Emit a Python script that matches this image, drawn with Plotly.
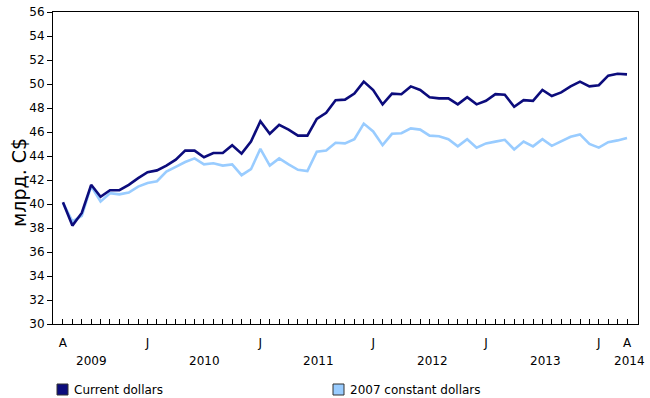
import plotly.graph_objects as go

# Monthly, April 2009 .. April 2014 (61 months)
months = list(range(61))
current_dollars = [
    40.15, 38.2, 39.25, 41.6, 40.6, 41.15, 41.15, 41.6, 42.15, 42.65,
    42.8, 43.2, 43.7, 44.45, 44.45, 43.9, 44.25, 44.25, 44.9, 44.2,
    45.2, 46.9, 45.85, 46.6, 46.2, 45.7, 45.7, 47.1, 47.6, 48.65,
    48.7, 49.2, 50.2, 49.5, 48.3, 49.2, 49.15, 49.8, 49.5, 48.9,
    48.8, 48.8, 48.3, 48.9, 48.3, 48.6, 49.15, 49.1, 48.1, 48.65,
    48.6, 49.5, 49.0, 49.3, 49.8, 50.2, 49.8, 49.9, 50.7, 50.85,
    50.8,
]
constant_2007_dollars = [
    40.1, 38.55, 39.0, 41.5, 40.2, 40.9, 40.8, 40.95, 41.45, 41.75,
    41.9, 42.7, 43.1, 43.5, 43.8, 43.3, 43.4, 43.2, 43.3, 42.4,
    42.9, 44.6, 43.2, 43.8, 43.3, 42.85, 42.75, 44.35, 44.45, 45.1,
    45.05, 45.4, 46.7, 46.05, 44.9, 45.85, 45.9, 46.3, 46.2, 45.7,
    45.65, 45.4, 44.8, 45.4, 44.7, 45.05, 45.2, 45.35, 44.55, 45.2,
    44.8, 45.4, 44.85, 45.25, 45.6, 45.8, 45.0, 44.7, 45.15, 45.3,
    45.5,
]
month_labels = {0: "A", 9: "J", 21: "J", 33: "J", 45: "J", 57: "J", 60: "A"}
year_labels = ["2009", "2010", "2011", "2012", "2013", "2014"]
year_pos = [3.0, 15.1, 27.2, 39.3, 51.3, 60.3]
series_names = ["Current dollars", "2007 constant dollars"]
y_title = "млрд. C$"

dark = "#0C0C7C"
light = "#99CCFF"
font = "DejaVu Sans"

# plot area geometry in pixels (for the hand-drawn legend / title)
L, R, T, B = 53, 638, 12, 324
W, H = R - L, B - T
def px(x):
    return (x - L) / W
def py(y):
    return (B - y) / H

fig = go.Figure()
fig.add_trace(go.Scatter(x=months, y=constant_2007_dollars, mode="lines",
                         name=series_names[1],
                         line=dict(color=light, width=2.6), showlegend=False))
fig.add_trace(go.Scatter(x=months, y=current_dollars, mode="lines",
                         name=series_names[0],
                         line=dict(color=dark, width=2.6), showlegend=False))

for lbl, pos in zip(year_labels, year_pos):
    fig.add_annotation(x=pos, y=0, xref="x", yref="paper", text=lbl,
                       showarrow=False, yanchor="top", yshift=-28,
                       font=dict(family=font, size=12, color="black"))

# y-axis title
fig.add_annotation(x=px(19), y=py(183), xref="paper", yref="paper", text=y_title,
                   showarrow=False, textangle=-90, xanchor="center", yanchor="middle",
                   font=dict(family=font, size=19, color="black"))

# legend (squares + labels)
legend_items = [(57, 72, dark, series_names[0]), (333, 348, light, series_names[1])]
for sx, tx, col, name in legend_items:
    fig.add_shape(type="rect", xref="paper", yref="paper",
                  x0=px(sx), x1=px(sx + 11), y0=py(395), y1=py(384),
                  fillcolor=col, line=dict(color="#333333", width=1))
    fig.add_annotation(x=px(tx), y=py(389.5), xref="paper", yref="paper",
                       text=name, showarrow=False, xanchor="left", yanchor="middle",
                       font=dict(family=font, size=12, color="black"))

fig.update_xaxes(
    range=[-1.06, 61.17],
    tickvals=months,
    ticktext=[month_labels.get(m, "") for m in months],
    ticks="inside", ticklen=5, tickcolor="black",
    showline=True, linecolor="black", linewidth=1, mirror=True,
    showgrid=False, zeroline=False, automargin=False,
    tickfont=dict(family=font, size=12, color="black"),
    ticklabelstandoff=8,
)
fig.update_yaxes(
    range=[30, 56], dtick=2,
    ticks="outside", ticklen=5, tickcolor="black",
    showline=True, linecolor="black", linewidth=1, mirror=True,
    showgrid=False, zeroline=False, automargin=False,
    tickfont=dict(family=font, size=12, color="black"),
)
fig.update_layout(
    width=650, height=398,
    margin=dict(l=L, r=650 - R, t=T, b=398 - B),
    paper_bgcolor="white", plot_bgcolor="white",
    font=dict(family=font, size=12, color="black"),
    showlegend=False,
)
fig.write_html("out.html", config={"displayModeBar": False},
               post_script="document.body.style.margin='0';document.body.style.overflow='hidden';")
